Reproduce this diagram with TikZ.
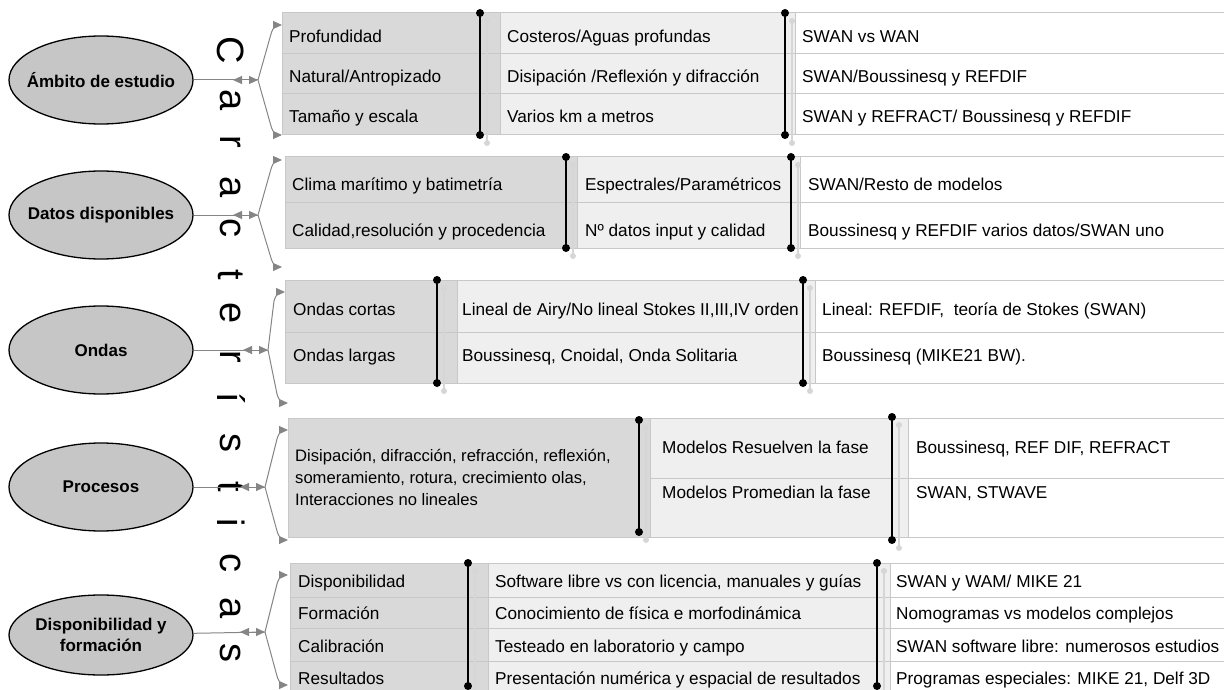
\documentclass[tikz,border=0pt]{standalone}
\usepackage{fontspec}
\setmainfont{Liberation Sans}
\usetikzlibrary{arrows.meta,calc,positioning,shapes.geometric}

\definecolor{ellfill}{HTML}{C6C6C6}
\definecolor{darkfill}{HTML}{D9D9D9}
\definecolor{lightfill}{HTML}{EFEFEF}
\definecolor{gridgray}{HTML}{C8C8C8}
\definecolor{linkgray}{HTML}{858585}
\definecolor{ghostgray}{HTML}{D6D6D6}

\tikzset{%
	theme/.style     = {draw, ellipse, fill=ellfill, line width=1.3pt, inner sep=0pt, minimum width=184pt, minimum height=88pt},
	themetxt/.style  = {align=center, inner sep=0pt, font=\bfseries\fontsize{17}{21}\selectfont},
	txt/.style       = {anchor=base west, inner sep=0pt, font=\fontsize{17.2}{22}\selectfont},
	vletter/.style   = {rotate=-90, inner sep=0pt, font=\fontsize{38}{38}\selectfont},
	darkcell/.style  = {fill=darkfill, draw=gridgray, line width=1pt},
	lightcell/.style = {fill=lightfill, draw=gridgray, line width=1pt},
	whitecell/.style = {fill=white, draw=gridgray, line width=1pt},
	rowline/.style   = {draw=gridgray, line width=1pt},
	link/.style      = {draw=linkgray, line width=1pt},
	twoway/.style    = {link, {Triangle[length=9pt,width=8pt]}-{Triangle[length=9pt,width=8pt]}},
	branch/.style    = {link, -{Triangle[length=9pt,width=8pt]}},
}

% separator bar: x, top, bottom
\newcommand{\splitbar}[3]{%
	\draw[draw=ghostgray, line width=2pt] (#1+7,#2+8) -- (#1+7,#3+8);
	\fill[ghostgray] (#1+7,#2+8) circle (3pt) (#1+7,#3+8) circle (3pt);
	\draw[line width=1.5pt] (#1,#2) -- (#1,#3);
	\fill (#1,#2) circle (4pt) (#1,#3) circle (4pt);
}
% fork: branch point, top end, bottom end
\newcommand{\forkto}[3]{%
	\draw[twoway] ($(#1)+(-25,0)$) -- (#1);
	\draw[branch] (#1) -- ($(#2)+(-11,9)$) .. controls +(2,-7) and +(-5,0) .. (#2);
	\draw[branch] (#1) -- ($(#3)+(-11,-9)$) .. controls +(2,7) and +(-5,0) .. (#3);
}

\begin{document}
\begin{tikzpicture}[x=1pt,y=-1pt]
	\useasboundingbox (0,0) rectangle (1224,690);

	% ambito
	\filldraw[darkcell] (282,13) rectangle (500,135);
	\filldraw[lightcell] (500,13) rectangle (795,135);
	\filldraw[whitecell] (795,13) rectangle (1232,135);
	\draw[rowline] (282,54) -- (1232,54) (282,94) -- (1232,94);
	\splitbar{480}{13}{135}
	\splitbar{785}{13}{135}
	\node[txt] (a11) at (289,43) {Profundidad};
	\node[txt] (a21) at (289,83) {Natural/Antropizado};
	\node[txt] (a31) at (289,123) {Tamaño y escala};
	\node[txt] (a12) at (507,43) {Costeros/Aguas profundas};
	\node[txt] (a22) at (507,83) {Disipación /Reflexión y difracción};
	\node[txt] (a32) at (507,123) {Varios km a metros};
	\node[txt] (a13) at (802,43) {SWAN vs WAN};
	\node[txt] (a23) at (802,83) {SWAN/Boussinesq y REFDIF};
	\node[txt] (a33) at (802,123) {SWAN y REFRACT/ Boussinesq y REFDIF};

	% datos
	\filldraw[darkcell] (285,157) rectangle (577,248);
	\filldraw[lightcell] (577,157) rectangle (800,248);
	\filldraw[whitecell] (800,157) rectangle (1232,248);
	\draw[rowline] (285,202) -- (1232,202);
	\splitbar{566}{157}{248}
	\splitbar{791}{157}{248}
	\node[txt] (b11) at (292,190) {Clima marítimo y batimetría};
	\node[txt] (b21) at (292,236) {Calidad,resolución y procedencia};
	\node[txt] (b12) at (585,190) {Espectrales/Paramétricos};
	\node[txt] (b22) at (585,236) {Nº datos input y calidad};
	\node[txt] (b13) at (808,190) {SWAN/Resto de modelos};
	\node[txt] (b23) at (808,236) {Boussinesq y REFDIF varios datos/SWAN uno};

	% ondas
	\filldraw[darkcell] (285,280) rectangle (457,383);
	\filldraw[lightcell] (457,280) rectangle (815,383);
	\filldraw[whitecell] (815,280) rectangle (1232,383);
	\draw[rowline] (285,332) -- (1232,332);
	\splitbar{437}{280}{383}
	\splitbar{803}{280}{383}
	\node[txt] (c11) at (293,315) {Ondas cortas};
	\node[txt] (c21) at (293,361) {Ondas largas};
	\node[txt] (c12) at (462,315) {Lineal de Airy/No lineal Stokes II,III,IV orden};
	\node[txt] (c22) at (462,361) {Boussinesq, Cnoidal, Onda Solitaria};
	\node[txt] (c13) at (822,315) {Lineal: REFDIF,\ \ teoría de Stokes (SWAN)};
	\node[txt] (c23) at (822,361) {Boussinesq (MIKE21 BW).};

	% procesos
	\filldraw[darkcell] (288,418) rectangle (650,537);
	\filldraw[lightcell] (650,418) rectangle (908,537);
	\filldraw[whitecell] (908,418) rectangle (1232,537);
	\draw[rowline] (650,478) -- (1232,478);
	\splitbar{639}{420}{532}
	\splitbar{892}{417}{540}
	\node[txt,anchor=west,align=left,font=\fontsize{16.6}{22}\selectfont] (d11) at (295,477) {Disipación, difracción, refracción, reflexión,\\someramiento, rotura, crecimiento olas,\\Interacciones no lineales};
	\node[txt] (d12) at (662,453) {Modelos Resuelven la fase};
	\node[txt] (d22) at (662,498) {Modelos Promedian la fase};
	\node[txt] (d13) at (916,453) {Boussinesq, REF DIF, REFRACT};
	\node[txt] (d23) at (916,498) {SWAN, STWAVE};

	% disponibilidad
	\filldraw[darkcell] (290,563) rectangle (488,697);
	\filldraw[lightcell] (488,563) rectangle (890,697);
	\filldraw[whitecell] (890,563) rectangle (1232,697);
	\draw[rowline] (290,597) -- (1232,597) (290,628) -- (1232,628) (290,661) -- (1232,661);
	\splitbar{468}{563}{686}
	\splitbar{877}{563}{686}
	\node[txt] (e11) at (298,587) {Disponibilidad};
	\node[txt] (e21) at (298,619) {Formación};
	\node[txt] (e31) at (298,652) {Calibración};
	\node[txt] (e41) at (298,684) {Resultados};
	\node[txt] (e12) at (495,587) {Software libre vs con licencia, manuales y guías};
	\node[txt] (e22) at (495,619) {Conocimiento de física e morfodinámica};
	\node[txt] (e32) at (495,652) {Testeado en laboratorio y campo};
	\node[txt] (e42) at (495,684) {Presentación numérica y espacial de resultados};
	\node[txt] (e13) at (896,587) {SWAN y WAM/ MIKE 21};
	\node[txt] (e23) at (896,619) {Nomogramas vs modelos complejos};
	\node[txt] (e33) at (896,652) {SWAN software libre: numerosos estudios};
	\node[txt] (e43) at (896,684) {Programas especiales: MIKE 21, Delf 3D};

	% vertical title
	\foreach \l/\y in {C/50,a/100,r/142,a/187,c/228,t/275,e/313,r/357,í/398,s/443,t/487,i/523,c/563,a/608,s/653}
		\node[vletter] (v\y) at (231,\y) {\l};

	% themes
	\node[theme] (amb) at (101,80) {};
	\node[theme] (dat) at (101,215) {};
	\node[theme] (ond) at (101,350) {};
	\node[theme] (pro) at (101,487) {};
	\node[theme,minimum height=80pt] (dis) at (101,635) {};
	\node[themetxt] (ambL) at (amb) {Ámbito de estudio};
	\node[themetxt] (datL) at (dat) {Datos disponibles};
	\node[themetxt] (ondL) at (ond) {Ondas};
	\node[themetxt] (proL) at (pro) {Procesos};
	\node[themetxt] (disL) at (dis) {Disponibilidad y\\formación};

	\coordinate (ambB) at (258,80);  \coordinate (ambT) at (282,25);  \coordinate (ambD) at (282,135);
	\coordinate (datB) at (258,215); \coordinate (datT) at (282,160); \coordinate (datD) at (282,267);
	\coordinate (ondB) at (268,350); \coordinate (ondT) at (285,292); \coordinate (ondD) at (288,403);
	\coordinate (proB) at (265,487); \coordinate (proT) at (288,430); \coordinate (proD) at (288,540);
	\coordinate (disB) at (265,632); \coordinate (disT) at (288,575); \coordinate (disD) at (288,685);

	\draw[link] (amb) -- (ambB);
	\draw[link] (dat) -- (datB);
	\draw[link] (ond) -- (ondB);
	\draw[link] (pro) -- (proB);
	\draw[link] (dis) -- (disB);
	\forkto{ambB}{ambT}{ambD}
	\forkto{datB}{datT}{datD}
	\forkto{ondB}{ondT}{ondD}
	\forkto{proB}{proT}{proD}
	\forkto{disB}{disT}{disD}
\end{tikzpicture}
\end{document}
